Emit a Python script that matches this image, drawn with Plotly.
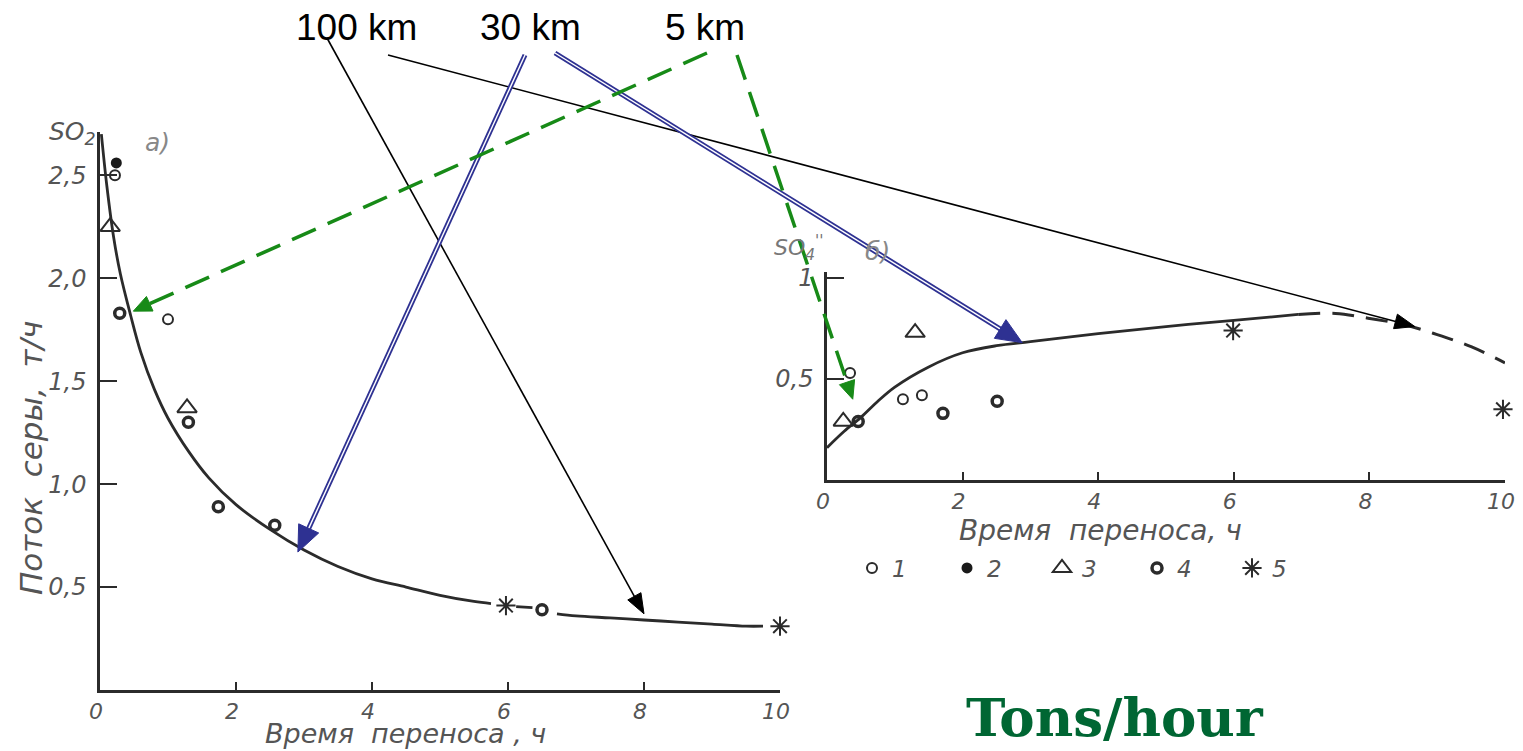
import math
import plotly.graph_objects as go

W, H = 1523, 751

# ---------------- data ----------------
x_ticks = [0, 2, 4, 6, 8, 10]
x_ticktext = ["0", "2", "4", "6", "8", "10"]
left_yticks = [0.5, 1.0, 1.5, 2.0, 2.5]
left_yticktext = ["0,5", "1,0", "1,5", "2,0", "2,5"]
right_yticks = [0.5, 1.0]
right_yticktext = ["0,5", "1"]

# left panel curve (a)
left_curve_x = [0.02, 0.1, 0.2, 0.3, 0.45, 0.6, 0.8, 1.0, 1.3, 1.6, 2.0, 2.5, 3.0, 3.5, 4.0, 4.5, 5.0, 5.5, 5.75]
left_curve_y = [2.70, 2.45, 2.20, 2.02, 1.82, 1.64, 1.46, 1.32, 1.16, 1.03, 0.90, 0.78, 0.68, 0.60, 0.54, 0.50, 0.46, 0.43, 0.42]
left_curve2_x = [6.72, 7.0, 7.5, 8.0, 8.5, 9.0, 9.5, 9.75]
left_curve2_y = [0.37, 0.36, 0.35, 0.34, 0.33, 0.32, 0.31, 0.31]
left_dash_x = [6.12, 6.36]
left_dash_y = [0.405, 0.40]

# right panel curve (б)
right_curve_x = [0.0, 0.25, 0.5, 0.75, 1.0, 1.5, 2.0, 2.5, 3.0, 4.0, 5.0, 6.0, 6.95]
right_curve_y = [0.16, 0.24, 0.31, 0.39, 0.46, 0.56, 0.63, 0.665, 0.685, 0.725, 0.76, 0.79, 0.82]
right_dashed_x = [6.95, 7.5, 8.0, 8.5, 9.0, 9.5, 10.0]
right_dashed_y = [0.82, 0.825, 0.80, 0.77, 0.72, 0.66, 0.58]

# observation points by type (legend 1..5)
L1_x, L1_y = [0.22, 1.0], [2.50, 1.80]
L2_x, L2_y = [0.24], [2.56]
L3_x, L3_y = [0.15, 1.28], [2.25, 1.37]
L4_x, L4_y = [0.29, 1.30, 1.74, 2.57, 6.5], [1.83, 1.30, 0.89, 0.80, 0.39]
L5_x, L5_y = [5.97, 10.0], [0.41, 0.31]
R1_x, R1_y = [0.34, 1.12, 1.40], [0.53, 0.40, 0.42]
R3_x, R3_y = [0.24, 1.30], [0.29, 0.73]
R4_x, R4_y = [0.46, 1.71, 2.51, 6.49], [0.29, 0.33, 0.39, 1.07]
R5_x, R5_y = [5.99, 9.97], [0.74, 0.35]
legend_names = ["1", "2", "3", "4", "5"]

# arrows: label -> heads (panel, x, y) in data units
arrow_labels = ["100 km", "30 km", "5 km"]
head_100 = [("L", 8.0, 0.37), ("R", 8.67, 0.76)]
head_30 = [("L", 2.91, 0.67), ("R", 2.88, 0.68)]
head_5 = [("L", 0.49, 1.84), ("R", 0.38, 0.40)]

# ---------------- layout geometry (pixels) ----------------
L_XPIX, L_YPIX, L_YMAX = (100, 780), (690, 132), 2.71
R_XPIX, R_YPIX, R_YMAX = (827, 1505), (480, 272), 1.03


def to_px(panel, x, y):
    if panel == "L":
        xp, yp, ym = L_XPIX, L_YPIX, L_YMAX
    else:
        xp, yp, ym = R_XPIX, R_YPIX, R_YMAX
    return xp[0] + (xp[1] - xp[0]) * x / 10.0, yp[0] + (yp[1] - yp[0]) * y / ym


def pp(px, py):
    return px / W, 1 - py / H


INK = "#2b2b2b"
GREY = "#555555"
BLUE = "#2E3192"
GREEN = "#178A17"

fig = go.Figure()

curve_style = dict(color=INK, width=2.8)
fig.add_trace(go.Scatter(x=left_curve_x, y=left_curve_y, mode="lines", line=dict(curve_style, shape="spline"),
                         xaxis="x", yaxis="y", showlegend=False, hoverinfo="skip"))
fig.add_trace(go.Scatter(x=left_curve2_x, y=left_curve2_y, mode="lines", line=dict(curve_style, shape="spline"),
                         xaxis="x", yaxis="y", showlegend=False, hoverinfo="skip"))
fig.add_trace(go.Scatter(x=left_dash_x, y=left_dash_y, mode="lines", line=curve_style,
                         xaxis="x", yaxis="y", showlegend=False, hoverinfo="skip"))
fig.add_trace(go.Scatter(x=right_curve_x, y=right_curve_y, mode="lines", line=dict(curve_style, shape="spline"),
                         xaxis="x2", yaxis="y2", showlegend=False, hoverinfo="skip"))
fig.add_trace(go.Scatter(x=right_dashed_x, y=right_dashed_y, mode="lines",
                         line=dict(color=INK, width=3, dash="22px,12px", shape="spline"),
                         xaxis="x2", yaxis="y2", showlegend=False, hoverinfo="skip"))

styles = {
    "1": dict(symbol="circle-open", size=10, color=INK, line=dict(width=2, color=INK)),
    "2": dict(symbol="circle", size=11, color="#1a1a1a"),
    "3": dict(symbol="triangle-up-open", size=17, color=INK, line=dict(width=2, color=INK)),
    "4": dict(symbol="circle-open", size=10, color=INK, line=dict(width=3.5, color=INK)),
    "5": dict(symbol="asterisk-open", size=16, color=INK, line=dict(width=2, color=INK)),
}

left_sets = [(L1_x, L1_y), (L2_x, L2_y), (L3_x, L3_y), (L4_x, L4_y), (L5_x, L5_y)]
for name, (xs, ys) in zip(legend_names, left_sets):
    fig.add_trace(go.Scatter(x=xs, y=ys, mode="markers", name=name, legendgroup=name,
                             marker=styles[name], xaxis="x", yaxis="y", cliponaxis=False))
right_sets = [("1", R1_x, R1_y), ("3", R3_x, R3_y), ("4", R4_x, R4_y), ("5", R5_x, R5_y)]
for name, xs, ys in right_sets:
    fig.add_trace(go.Scatter(x=xs, y=ys, mode="markers", name=name, legendgroup=name, showlegend=False,
                             marker=styles[name], xaxis="x2", yaxis="y2", cliponaxis=False))

# ---------------- axes ----------------
ytickfont = dict(family="DejaVu Sans", size=24, color=GREY, style="italic")
xtickfont = dict(family="DejaVu Sans", size=22, color=GREY, style="italic")
common = dict(showgrid=False, zeroline=False, showline=True, linecolor=INK, linewidth=2.5,
              ticks="inside", tickcolor=INK, tickwidth=2, fixedrange=True, automargin=False)
fig.update_layout(
    xaxis=dict(common, domain=[L_XPIX[0] / W, L_XPIX[1] / W], range=[0, 10], anchor="y", tickfont=xtickfont,
               tickvals=x_ticks, ticktext=x_ticktext, ticklen=8, ticklabelstandoff=0, ticklabelshift=-4),
    yaxis=dict(common, domain=[1 - L_YPIX[0] / H, 1 - L_YPIX[1] / H], range=[0, L_YMAX], anchor="x",
               tickfont=ytickfont, tickvals=left_yticks, ticktext=left_yticktext, ticklen=17, ticklabelstandoff=6),
    xaxis2=dict(common, domain=[R_XPIX[0] / W, R_XPIX[1] / W], range=[0, 10], anchor="y2", tickfont=xtickfont,
                tickvals=x_ticks, ticktext=x_ticktext, ticklen=8, ticklabelstandoff=0, ticklabelshift=-4),
    yaxis2=dict(common, domain=[1 - R_YPIX[0] / H, 1 - R_YPIX[1] / H], range=[0, R_YMAX], anchor="x2",
                tickfont=ytickfont, tickvals=right_yticks, ticktext=right_yticktext, ticklen=17,
                ticklabelstandoff=6),
)

# ---------------- arrows ----------------
shapes = []
annotations = []


def unit(hx, hy, tx, ty):
    d = math.hypot(tx - hx, ty - hy)
    return (tx - hx) / d, (ty - hy) / d


def add_head(hx, hy, tx, ty, color, length, half):
    ux, uy = unit(hx, hy, tx, ty)
    bx, by = hx + ux * length, hy + uy * length
    nx, ny = -uy, ux
    pts = [(hx, hy), (bx + nx * half, by + ny * half), (bx - nx * half, by - ny * half)]
    path = "M " + " L ".join("%.6f,%.6f" % pp(px, py) for px, py in pts) + " Z"
    shapes.append(dict(type="path", xref="paper", yref="paper", path=path,
                       fillcolor=color, line=dict(color=color, width=1), layer="above"))


def line(x0, y0, x1, y1, color, width, dash="solid"):
    a = pp(x0, y0)
    b = pp(x1, y1)
    shapes.append(dict(type="line", xref="paper", yref="paper", x0=a[0], y0=a[1], x1=b[0], y1=b[1],
                       line=dict(color=color, width=width, dash=dash), layer="above"))


def shorten(hx, hy, tx, ty, k):
    ux, uy = unit(hx, hy, tx, ty)
    return hx + ux * k, hy + uy * k


tails_100 = [(327, 38), (388, 55)]
tails_30 = [(525, 55), (555, 53)]
tails_5 = [(707, 53), (737, 55)]

for (panel, x, y), (tx, ty) in zip(head_100, tails_100):
    hx, hy = to_px(panel, x, y)
    ex, ey = shorten(hx, hy, tx, ty, 12)
    line(tx, ty, ex, ey, "black", 1.6)
    add_head(hx, hy, tx, ty, "black", 20, 7.5)

for (panel, x, y), (tx, ty) in zip(head_30, tails_30):
    hx, hy = to_px(panel, x, y)
    ex, ey = shorten(hx, hy, tx, ty, 20)
    line(tx, ty, ex, ey, BLUE, 5)
    line(tx, ty, ex, ey, "white", 1.4)
    add_head(hx, hy, tx, ty, BLUE, 26, 11)

for (panel, x, y), (tx, ty) in zip(head_5, tails_5):
    hx, hy = to_px(panel, x, y)
    ex, ey = shorten(hx, hy, tx, ty, 14)
    line(tx, ty, ex, ey, GREEN, 3.5, dash="26px,13px")
    add_head(hx, hy, tx, ty, GREEN, 18, 8)

# ---------------- texts ----------------
label_pos = [(356, 27), (530, 27), (705, 27)]
for txt_, (px, py) in zip(arrow_labels, label_pos):
    x, y = pp(px, py)
    annotations.append(dict(x=x, y=y, xref="paper", yref="paper", text=txt_, showarrow=False,
                            xanchor="center", yanchor="middle",
                            font=dict(family="Liberation Sans, Arial", size=37, color="black")))


def txt(s, px, py, size, color=GREY, family="DejaVu Sans", style="italic", angle=0, weight="normal",
        xanchor="center"):
    x, y = pp(px, py)
    annotations.append(dict(x=x, y=y, xref="paper", yref="paper", text=s, showarrow=False,
                            xanchor=xanchor, yanchor="middle", textangle=angle,
                            font=dict(family=family, size=size, color=color, style=style, weight=weight)))


txt("SO<sub>2</sub>", 72, 133, 25)
txt("а)", 157, 142, 25, color="#888888")
txt("SO<sub>4</sub><sup>''</sup>", 799, 248, 22, color="#777777")
txt("б)", 877, 251, 25, color="#888888")
txt("Время  переноса , ч", 405, 733, 27)
txt("Время  переноса, ч", 1100, 530, 28)
txt("Поток  серы,  т/ч", 31, 458, 31, angle=-90)
txt("Tons/hour", 1115, 717, 53, color="#006633", family="DejaVu Serif", style="normal", weight="bold")

fig.update_layout(
    width=W, height=H, margin=dict(l=0, r=0, t=0, b=0, pad=0, autoexpand=False),
    paper_bgcolor="white", plot_bgcolor="rgba(0,0,0,0)",
    shapes=shapes, annotations=annotations,
    showlegend=True,
    legend=dict(orientation="h", x=852 / W, y=1 - 568 / H, xanchor="left", yanchor="middle",
                bgcolor="rgba(0,0,0,0)", font=dict(family="DejaVu Sans", size=23, color=GREY, style="italic"),
                entrywidth=50, entrywidthmode="pixels", traceorder="normal"),
)

fig.write_html("out.html", config={"displayModeBar": False},
               post_script="document.body.style.margin='0';document.body.style.padding='0';"
                           "document.documentElement.style.overflow='hidden';")
